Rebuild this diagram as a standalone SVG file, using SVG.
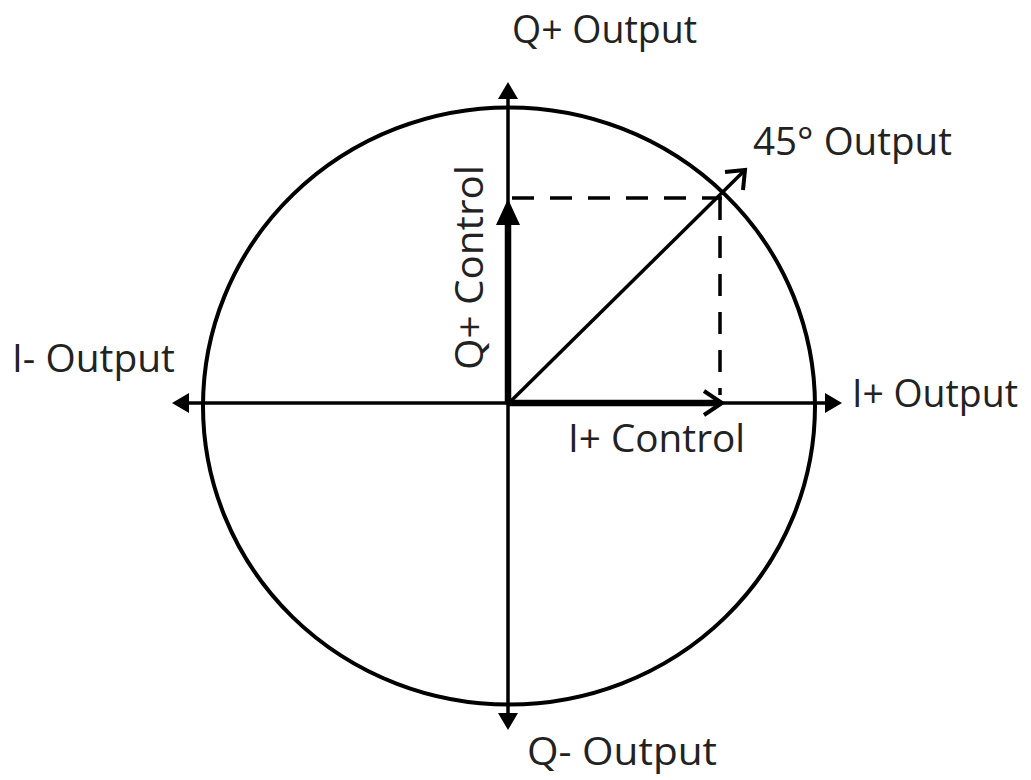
<svg xmlns="http://www.w3.org/2000/svg" width="1031" height="780" viewBox="0 0 1031 780">
<style>
.ln{stroke:#000;stroke-width:3.5;fill:none}
.thick{stroke:#000;stroke-width:6.5;fill:none}
.dash{stroke:#000;stroke-width:3.5;fill:none;stroke-dasharray:22 16}
.lbl{font-family:"Open Sans","Liberation Sans",sans-serif;font-size:39px;fill:#222}
.head{fill:#000}
</style>
<rect width="1031" height="780" fill="#fff"/>
<g id="circle"><ellipse cx="509" cy="406" rx="306" ry="298.5" class="ln" style="stroke-width:4"/></g>
<g id="connectors">
<line x1="508" y1="96" x2="508" y2="716" class="ln"/>
<polygon class="head" points="508,82 498,99 518,99"/>
<polygon class="head" points="508,730 498,713 518,713"/>
<line x1="186" y1="403" x2="828" y2="403" class="ln"/>
<polygon class="head" points="172,403 189,393 189,413"/>
<polygon class="head" points="842,403 825,393 825,413"/>
<line x1="508" y1="403" x2="508" y2="222" class="thick"/>
<polygon class="head" points="508,199 496,225 520,225"/>
<line x1="508" y1="403" x2="718" y2="403" class="thick"/>
<polyline points="704,391 722,403 704,415" class="ln" style="stroke-width:4"/>
<line x1="510" y1="402" x2="743" y2="172" class="ln"/>
<polyline points="725,172 745,170 743,190" class="ln" style="stroke-width:4"/>
<line x1="512" y1="198" x2="722" y2="198" class="dash"/>
<line x1="720" y1="198" x2="720" y2="395" class="dash"/>
</g>
<g id="labels">
<text class="lbl" x="512" y="43" textLength="185" lengthAdjust="spacingAndGlyphs">Q+ Output</text>
<text class="lbl" x="753" y="155" textLength="199" lengthAdjust="spacingAndGlyphs">45° Output</text>
<text class="lbl" x="12" y="372" textLength="163" lengthAdjust="spacingAndGlyphs">I- Output</text>
<text class="lbl" x="852" y="407" textLength="166" lengthAdjust="spacingAndGlyphs">I+ Output</text>
<text class="lbl" x="568" y="452" textLength="177" lengthAdjust="spacingAndGlyphs">I+ Control</text>
<text class="lbl" x="527" y="765" textLength="190" lengthAdjust="spacingAndGlyphs">Q- Output</text>
<text class="lbl" transform="translate(483,370) rotate(-90)" x="0" y="0" textLength="205" lengthAdjust="spacingAndGlyphs">Q+ Control</text>
</g>
</svg>
